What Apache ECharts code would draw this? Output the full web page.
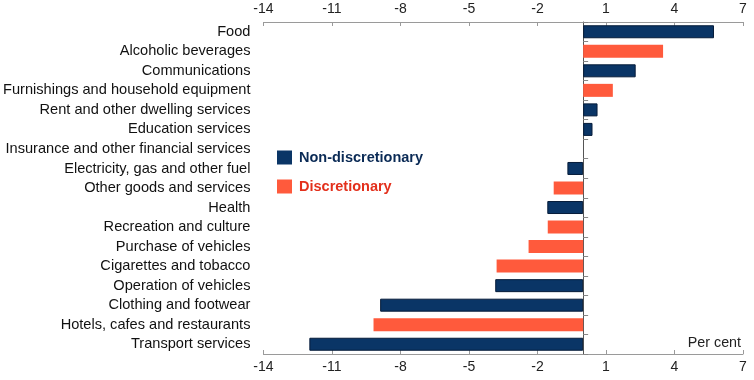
<!DOCTYPE html>
<html><head><meta charset="utf-8">
<script src="https://cdn.jsdelivr.net/npm/echarts@6/dist/echarts.min.js"></script>
<style>html,body{margin:0;padding:0;background:#fff}#c{width:754px;height:380px}</style>
</head><body><div id="c"></div>
<script>
const categories = ["Food","Alcoholic beverages","Communications","Furnishings and household equipment","Rent and other dwelling services","Education services","Insurance and other financial services","Electricity, gas and other fuel","Other goods and services","Health","Recreation and culture","Purchase of vehicles","Cigarettes and tobacco","Operation of vehicles","Clothing and footwear","Hotels, cafes and restaurants","Transport services"];
const nonDiscretionary = [5.73,'-',2.3,'-',0.63,0.41,'-',-0.69,'-',-1.57,'-','-','-',-3.85,-8.89,'-',-11.99];
const discretionary = ['-',3.5,'-',1.3,'-','-','-','-',-1.29,'-',-1.55,-2.39,-3.79,'-','-',-9.18,'-'];
const xTicks = {min:-14, max:7, interval:3};
const navy = '#0a3566', orange = '#ff5a3c';
const font = '"Liberation Sans", Arial, sans-serif';
const chart = echarts.init(document.getElementById('c'));
const xCommon = {
  type:'value', min:xTicks.min, max:xTicks.max, interval:xTicks.interval,
  splitLine:{show:false},
  axisLine:{show:true, onZero:false, lineStyle:{color:'#9a9a9a', width:1}},
  axisTick:{show:true, inside:true, length:4, lineStyle:{color:'#9a9a9a'}},
  axisLabel:{fontFamily:font, fontSize:14, color:'#222', margin:6}
};
chart.setOption({
  animation:false,
  grid:{left:263, right:11, top:22, bottom:26, containLabel:false},
  xAxis:[Object.assign({position:'top'}, xCommon), Object.assign({position:'bottom'}, xCommon)],
  yAxis:[
    {type:'category', data:categories, inverse:true,
     axisLine:{show:false}, axisTick:{show:false},
     axisLabel:{fontFamily:font, fontSize:14.6, color:'#111', margin:13}},
    {type:'category', data:categories, inverse:true, position:'left',
     axisLine:{show:true, onZero:true, onZeroAxisIndex:0, lineStyle:{color:'#555', width:1}},
     axisTick:{show:true, inside:true, length:5, lineStyle:{color:'#888'}},
     axisLabel:{show:false}}
  ],
  legend:{
    orient:'vertical', left:272, top:145, itemWidth:15, itemHeight:14, itemGap:14,
    icon:'rect',
    itemStyle:{borderWidth:0},
    data:[
      {name:'Non-discretionary', textStyle:{color:'#0a2a55'}},
      {name:'Discretionary', textStyle:{color:'#e3301c'}}
    ],
    textStyle:{fontFamily:font, fontSize:14.5, fontWeight:'bold', padding:[0,0,0,2]}
  },
  graphic:[{type:'text', right:13, top:336, style:{text:'Per cent', font:'14.3px '+font, fill:'#222'}}],
  series:[
    {name:'Non-discretionary', type:'bar', data:nonDiscretionary, barWidth:13, barGap:'-100%',
     itemStyle:{color:navy, borderColor:'#061c3a', borderWidth:1}},
    {name:'Discretionary', type:'bar', data:discretionary, barWidth:13, barGap:'-100%',
     itemStyle:{color:orange}}
  ]
});
</script></body></html>
